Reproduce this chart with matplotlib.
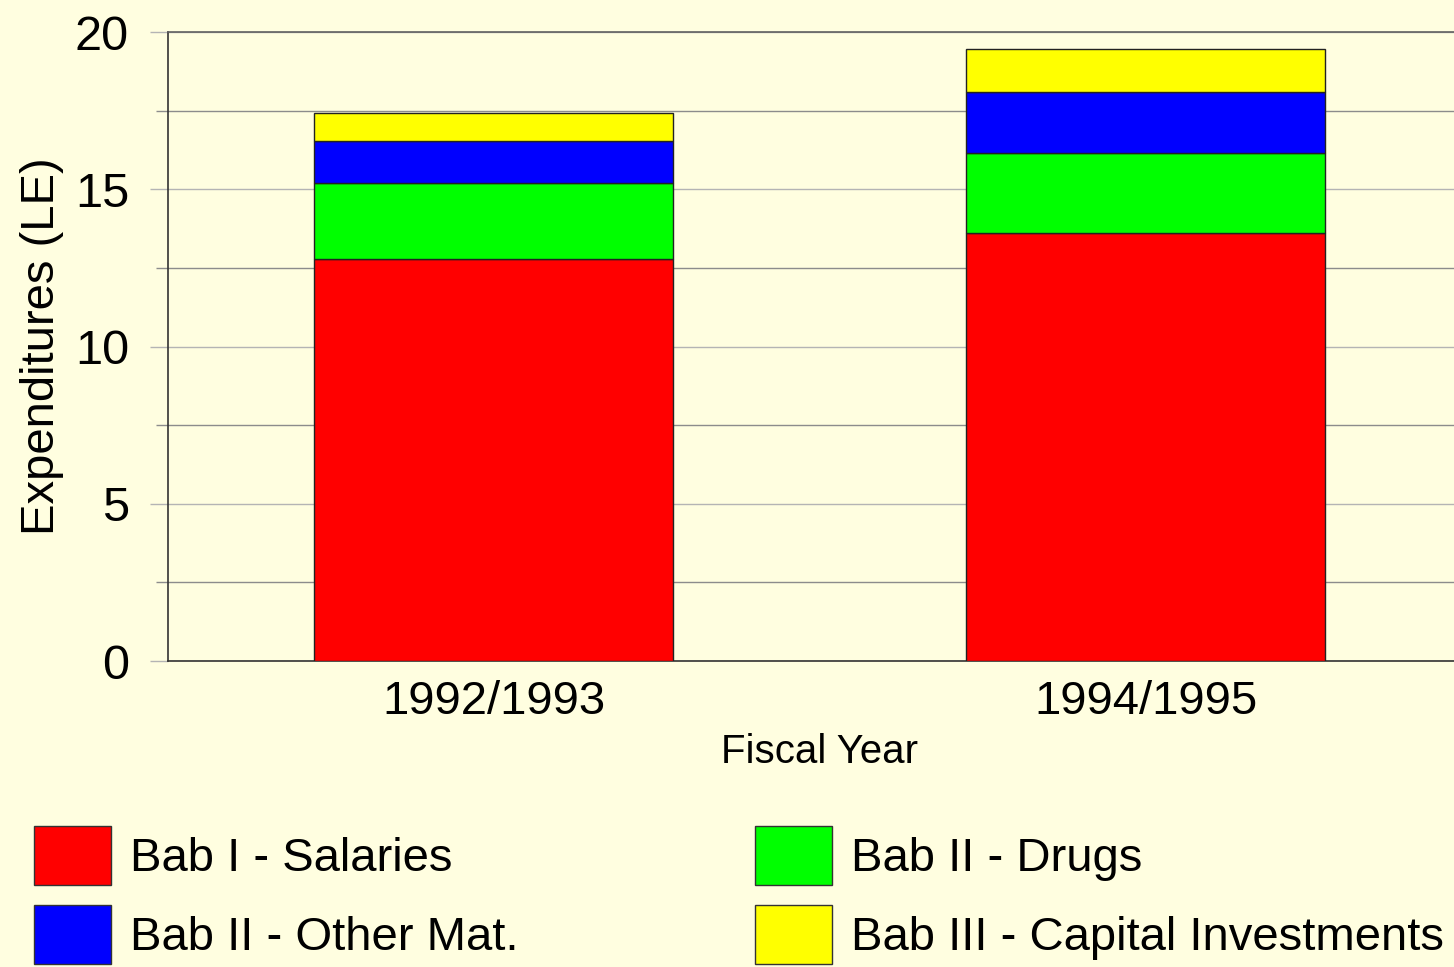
"""
Stacked expenditures by Bab for two fiscal years.
"""
import matplotlib
matplotlib.use("Agg")
import matplotlib.pyplot as plt
from matplotlib.patches import Patch
import numpy as np

plt.rcParams["font.family"] = ["Liberation Sans", "DejaVu Sans"]

# ── Data ──────────────────────────────────────────────────────────────────────

YEARS = ["1992/1993", "1994/1995"]
SERIES = [
    "Bab I - Salaries",
    "Bab II - Drugs",
    "Bab II - Other Mat.",
    "Bab III - Capital Investments",
]
SALARIES = [12.78, 13.62]
DRUGS = [2.42, 2.53]
OTHER_MAT = [1.33, 1.94]
CAPITAL = [0.89, 1.37]

COLORS = ["#FF0000", "#00FF00", "#0000FF", "#FFFF00"]
BG = "#FFFEE0"

# ── Plot ──────────────────────────────────────────────────────────────────────

fig = plt.figure(figsize=(14.54, 9.67), dpi=100, facecolor=BG)
ax = fig.add_axes([0.1155, 0.3164, 0.8967, 0.6505])
ax.set_facecolor(BG)

x = np.arange(len(YEARS))
bottom = np.zeros(len(YEARS))
handles = []
for vals, color, name in zip([SALARIES, DRUGS, OTHER_MAT, CAPITAL], COLORS, SERIES):
    ax.bar(x, vals, width=0.551, bottom=bottom, color=color,
           edgecolor="#222222", linewidth=1.0, zorder=3)
    bottom += np.array(vals)
    handles.append(Patch(facecolor=color, edgecolor="#333333", linewidth=1.0, label=name))

ax.set_xlim(-0.5, 1.5)
ax.set_ylim(0, 20)

ax.set_yticks(np.arange(0, 21, 5))
ax.set_yticks(np.arange(2.5, 20, 5), minor=True)
ax.grid(axis="y", which="major", color="#B4B4B4", linewidth=1.0, zorder=0)
ax.grid(axis="y", which="minor", color="#8C8C8C", linewidth=1.0, zorder=0)
ax.tick_params(axis="y", which="major", length=13, width=1.0, color="#B4B4B4",
               labelsize=35, pad=15)
ax.tick_params(axis="y", which="minor", length=8.6, width=1.0, color="#8C8C8C")

ax.set_xticks(x)
ax.set_xticklabels(YEARS)
ax.tick_params(axis="x", length=0, labelsize=34, pad=14)

for side in ["left", "bottom"]:
    ax.spines[side].set_color("#333333")
    ax.spines[side].set_linewidth(1.2)
ax.spines["top"].set_color("#606060")
ax.spines["top"].set_linewidth(1.2)
ax.spines["right"].set_visible(False)

ax.set_xlabel("Fiscal Year", fontsize=29, labelpad=6)
ax.set_ylabel("Expenditures (LE)", fontsize=34, labelpad=8)

# legend: two columns, placed separately
leg_kw = dict(frameon=False, fontsize=34, handlelength=1.63, handleheight=1.54,
              handletextpad=0.4, labelspacing=0.42, borderpad=0, borderaxespad=0,
              loc="upper left")
fig.legend(handles=[handles[0], handles[2]], bbox_to_anchor=(34 / 1454, 1 - 826 / 967), **leg_kw)
fig.legend(handles=[handles[1], handles[3]], bbox_to_anchor=(755 / 1454, 1 - 826 / 967), **leg_kw)

fig.savefig("out.png", dpi=100, facecolor=BG)
plt.close(fig)
